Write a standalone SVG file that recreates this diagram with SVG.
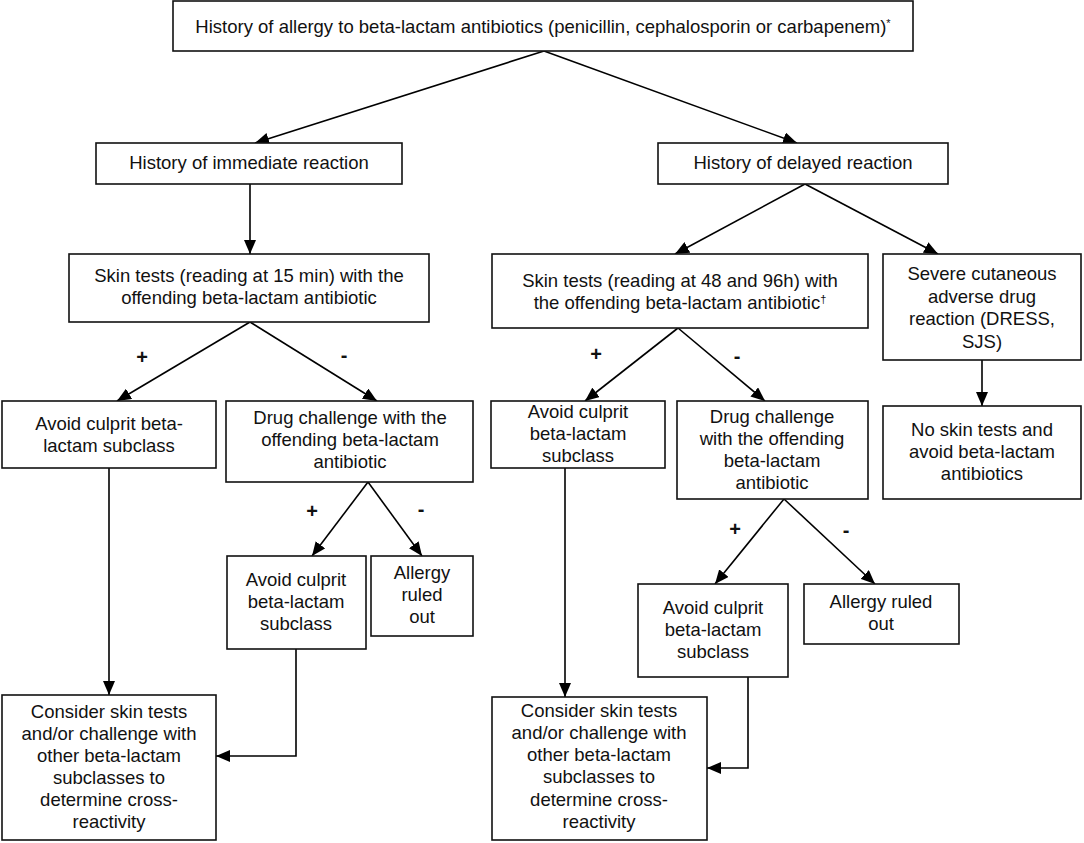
<svg xmlns="http://www.w3.org/2000/svg" width="1084" height="843" viewBox="0 0 1084 843">
<defs>
<marker id="ah" markerUnits="userSpaceOnUse" markerWidth="14" markerHeight="12" viewBox="0 0 14 12" refX="14" refY="6" orient="auto">
<path d="M0,0 L14,6 L0,12 z" fill="#000"/>
</marker>
<style>
rect{fill:#fff;stroke:#111;stroke-width:1.6}
text{font-family:"Liberation Sans",Arial,sans-serif;font-size:18.5px;fill:#111;text-anchor:middle}
.sign{font-weight:bold;font-size:20px}
.c{stroke:#000;stroke-width:1.6;fill:none;marker-end:url(#ah)}
.sup{font-size:11px}
</style>
</defs>
<rect x="0" y="0" width="1084" height="843" style="fill:#fff;stroke:none"/>
<g id="connectors">
<line class="c" x1="544" y1="51" x2="255" y2="143"/>
<line class="c" x1="544" y1="51" x2="797" y2="143"/>
<line class="c" x1="250" y1="184" x2="250" y2="254"/>
<line class="c" x1="805" y1="184" x2="675" y2="254"/>
<line class="c" x1="805" y1="184" x2="938" y2="254"/>
<line class="c" x1="250" y1="322" x2="117" y2="401"/>
<line class="c" x1="250" y1="322" x2="377" y2="401"/>
<line class="c" x1="678" y1="328" x2="585" y2="401"/>
<line class="c" x1="678" y1="328" x2="765" y2="401"/>
<line class="c" x1="982" y1="360" x2="982" y2="406"/>
<line class="c" x1="368" y1="482" x2="312" y2="556"/>
<line class="c" x1="368" y1="482" x2="422" y2="556"/>
<line class="c" x1="784" y1="499" x2="715" y2="584"/>
<line class="c" x1="784" y1="499" x2="875" y2="584"/>
<line class="c" x1="109" y1="468" x2="109" y2="695"/>
<polyline class="c" points="296,649 296,756 216,756"/>
<line class="c" x1="565" y1="468" x2="565" y2="697"/>
<polyline class="c" points="748,677 748,768 707,768"/>
<text class="sign" x="142" y="364">+</text>
<text class="sign" x="344" y="362">-</text>
<text class="sign" x="312" y="518">+</text>
<text class="sign" x="421" y="516">-</text>
<text class="sign" x="596" y="361">+</text>
<text class="sign" x="737" y="363">-</text>
<text class="sign" x="735" y="536">+</text>
<text class="sign" x="846" y="537">-</text>
</g>
<g id="top"><rect x="173" y="1" width="740" height="50"/><text x="543" y="33">History of allergy to beta-lactam antibiotics (penicillin, cephalosporin or carbapenem)<tspan class="sup" dy="-6">*</tspan></text></g>
<g id="immediate"><rect x="96" y="143" width="306" height="41"/><text x="249" y="169">History of immediate reaction</text></g>
<g id="delayed"><rect x="658" y="143" width="290" height="41"/><text x="803" y="169">History of delayed reaction</text></g>
<g id="skinL"><rect x="69" y="254" width="360" height="68"/><text x="249" y="282">Skin tests (reading at 15 min) with the</text><text x="249" y="304">offending beta-lactam antibiotic</text></g>
<g id="skinR"><rect x="492" y="254" width="376" height="74"/><text x="680" y="287">Skin tests (reading at 48 and 96h) with</text><text x="680" y="309">the offending beta-lactam antibiotic<tspan class="sup" dy="-6">†</tspan></text></g>
<g id="severe"><rect x="883" y="254" width="198" height="106"/><text x="982" y="280">Severe cutaneous</text><text x="982" y="303">adverse drug</text><text x="982" y="325">reaction (DRESS,</text><text x="982" y="348">SJS)</text></g>
<g id="avoidL"><rect x="2" y="401" width="214" height="67"/><text x="109" y="430">Avoid culprit beta-</text><text x="109" y="452">lactam subclass</text></g>
<g id="challengeL"><rect x="226" y="401" width="247" height="81"/><text x="350" y="424">Drug challenge with the</text><text x="350" y="446">offending beta-lactam</text><text x="350" y="468">antibiotic</text></g>
<g id="avoidR"><rect x="491" y="401" width="174" height="67"/><text x="578" y="418">Avoid culprit</text><text x="578" y="440">beta-lactam</text><text x="578" y="462">subclass</text></g>
<g id="challengeR"><rect x="677" y="401" width="191" height="98"/><text x="772" y="423">Drug challenge</text><text x="772" y="445">with the offending</text><text x="772" y="467">beta-lactam</text><text x="772" y="489">antibiotic</text></g>
<g id="noskin"><rect x="883" y="406" width="198" height="93"/><text x="982" y="436">No skin tests and</text><text x="982" y="458">avoid beta-lactam</text><text x="982" y="480">antibiotics</text></g>
<g id="avoid2"><rect x="227" y="556" width="139" height="93"/><text x="296" y="586">Avoid culprit</text><text x="296" y="608">beta-lactam</text><text x="296" y="630">subclass</text></g>
<g id="allergyL"><rect x="371" y="556" width="102" height="80"/><text x="422" y="579">Allergy</text><text x="422" y="601">ruled</text><text x="422" y="623">out</text></g>
<g id="avoid3"><rect x="638" y="584" width="150" height="93"/><text x="713" y="614">Avoid culprit</text><text x="713" y="636">beta-lactam</text><text x="713" y="658">subclass</text></g>
<g id="allergyR"><rect x="804" y="584" width="155" height="60"/><text x="881" y="608">Allergy ruled</text><text x="881" y="630">out</text></g>
<g id="considerL"><rect x="2" y="695" width="214" height="145"/><text x="109" y="718">Consider skin tests</text><text x="109" y="740">and/or challenge with</text><text x="109" y="762">other beta-lactam</text><text x="109" y="784">subclasses to</text><text x="109" y="806">determine cross-</text><text x="109" y="828">reactivity</text></g>
<g id="considerR"><rect x="492" y="697" width="215" height="143"/><text x="599" y="717">Consider skin tests</text><text x="599" y="739">and/or challenge with</text><text x="599" y="761">other beta-lactam</text><text x="599" y="783">subclasses to</text><text x="599" y="806">determine cross-</text><text x="599" y="828">reactivity</text></g>
</svg>
